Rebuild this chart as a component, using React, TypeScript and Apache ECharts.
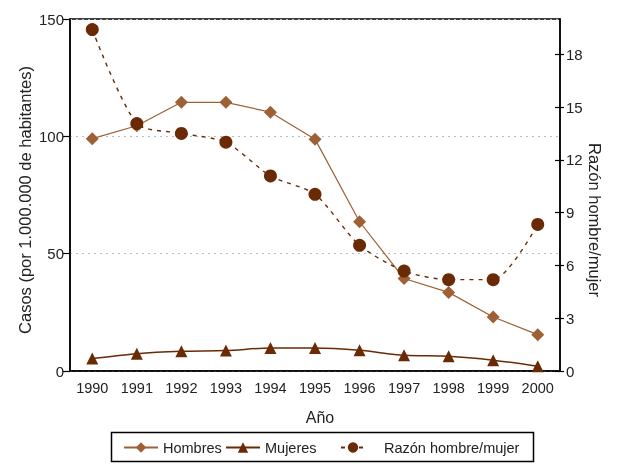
import React, { useEffect, useRef } from "react";
import * as echarts from "echarts";

const years = ["1990", "1991", "1992", "1993", "1994", "1995", "1996", "1997", "1998", "1999", "2000"];
const hombres = [99, 104.5, 114.5, 114.5, 110.3, 98.8, 63.6, 39.4, 33.5, 23.0, 15.5];
const mujeres = [5.3, 7.4, 8.4, 8.7, 9.8, 9.8, 8.8, 6.7, 6.3, 4.6, 2.0];
const razon = [19.4, 14.06, 13.5, 13.0, 11.08, 10.04, 7.14, 5.68, 5.19, 5.19, 8.33];
const leftTicks = [0, 50, 100, 150];
const rightTicks = [0, 3, 6, 9, 12, 15, 18];

const FONT = "'Liberation Sans', Arial, sans-serif";
const FS = 14.5;
const NAME_FS = 16.5;
const LIGHT = "#9E6035";
const DARK = "#6A2A06";

export default function App() {
  const ref = useRef<HTMLDivElement>(null);
  useEffect(() => {
    if (!ref.current) return;
    const chart = echarts.init(ref.current, null, { renderer: "svg" });
    const txt = { fontFamily: FONT, fontSize: FS, color: "#222" };
    const legendBase = { top: 440, padding: 0, itemHeight: 13, textStyle: { ...txt } };
    chart.setOption({
      animation: false,
      textStyle: { fontFamily: FONT },
      grid: { left: 70, right: 61, top: 19, bottom: 93, show: true, borderColor: "#000", borderWidth: 1.5, backgroundColor: "transparent" },
      xAxis: {
        type: "category",
        data: years,
        boundaryGap: true,
        axisLine: { lineStyle: { color: "#000", width: 1.5 } },
        axisTick: { show: false },
        axisLabel: { ...txt, margin: 9, interval: 0 },
      },
      yAxis: [
        {
          type: "value",
          min: 0,
          max: 150,
          interval: 50,
          axisLine: { show: true, lineStyle: { color: "#000", width: 1.5 } },
          axisTick: { show: true, length: 7, lineStyle: { color: "#000", width: 1.2 } },
          axisLabel: { ...txt, fontSize: 15, margin: 6, customValues: leftTicks },
          splitLine: { show: true, lineStyle: { color: "#bbb", type: [2, 4], width: 1 } },
        },
        {
          type: "value",
          min: 0,
          max: 20,
          position: "right",
          axisLine: { show: true, lineStyle: { color: "#000", width: 1.5 } },
          axisTick: { show: true, length: 4, customValues: rightTicks, lineStyle: { color: "#000", width: 1.2 } },
          axisLabel: { ...txt, fontSize: 15, margin: 6, customValues: rightTicks },
          splitLine: { show: false },
        },
        {
          type: "value",
          min: 0,
          max: 20,
          position: "right",
          axisLine: { show: false },
          axisTick: { show: true, inside: true, length: 5, customValues: rightTicks, lineStyle: { color: "#000", width: 1.2 } },
          axisLabel: { show: false },
          splitLine: { show: false },
        },
      ],
      legend: [
        { ...legendBase, data: ["Hombres"], left: 123, itemWidth: 34 },
        { ...legendBase, data: ["Mujeres"], left: 225, itemWidth: 34 },
        {
          ...legendBase,
          data: ["Razón hombre/mujer"],
          left: 340,
          itemWidth: 24,
          textStyle: { ...txt, padding: [0, 0, 0, 14] },
        },
      ],
      graphic: [
        {
          type: "rect",
          shape: { x: 111.5, y: 432.5, width: 422, height: 29 },
          style: { fill: "none", stroke: "#000", lineWidth: 1.5 },
          silent: true,
        },
        {
          type: "text",
          x: 25,
          y: 200,
          rotation: Math.PI / 2,
          style: { text: "Casos (por 1.000.000 de habitantes)", align: "center", verticalAlign: "middle", font: `${NAME_FS}px ${FONT}`, fill: "#222" },
        },
        {
          type: "text",
          x: 595,
          y: 220,
          rotation: -Math.PI / 2,
          style: { text: "Razón hombre/mujer", align: "center", verticalAlign: "middle", font: `${NAME_FS}px ${FONT}`, fill: "#222" },
        },
        {
          type: "text",
          x: 320,
          y: 417,
          style: { text: "Año", align: "center", verticalAlign: "middle", font: `16px ${FONT}`, fill: "#222" },
        },
      ],
      series: [
        {
          name: "Hombres",
          type: "line",
          yAxisIndex: 0,
          data: hombres,
          symbol: "diamond",
          symbolSize: 13,
          itemStyle: { color: LIGHT },
          lineStyle: { color: LIGHT, width: 1.2 },
          z: 3,
        },
        {
          name: "Mujeres",
          type: "line",
          yAxisIndex: 0,
          data: mujeres,
          symbol: "triangle",
          symbolSize: 12,
          smooth: 0.3,
          itemStyle: { color: DARK },
          lineStyle: { color: DARK, width: 1.5 },
          z: 3,
        },
        {
          name: "Razón hombre/mujer",
          type: "line",
          yAxisIndex: 1,
          data: razon,
          symbol: "circle",
          symbolSize: 13,
          smooth: 0.25,
          itemStyle: { color: DARK },
          lineStyle: { color: DARK, width: 1.4, type: [4, 5] },
          z: 4,
        },
      ],
    });
    return () => chart.dispose();
  }, []);
  return <div ref={ref} style={{ position: "fixed", left: 0, top: 0, width: 621, height: 464 }} />;
}
